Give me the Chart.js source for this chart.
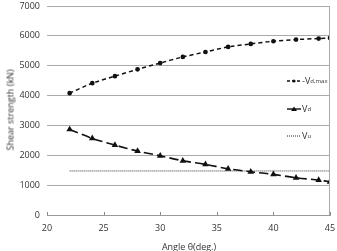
<!DOCTYPE html>
<html>
<head>
<meta charset="utf-8">
<script src="https://cdn.jsdelivr.net/npm/chart.js@4/dist/chart.umd.min.js"></script>
<style>
    html, body { margin: 0; padding: 0; background: #fff; }
    #wrap { position: relative; width: 337px; height: 251px; font-family: "Open Sans", "Noto Sans", sans-serif; color: #333; }
    #chart { position: absolute; left: 0; top: 0; }
    .legend-item { position: absolute; font-size: 9px; display: flex; align-items: center; white-space: nowrap; }
    .legend-item svg { margin-right: 1px; }
    .legend-item sub { font-size: 6px; vertical-align: -2px; }
    #ytitle { position: absolute; left: 10px; top: 110px; font-size: 9px; font-weight: normal; transform: translate(-50%, -50%) rotate(-90deg); white-space: nowrap; }
    #xtitle { position: absolute; left: 189px; top: 246px; font-size: 9px; transform: translate(-50%, -50%); white-space: nowrap; }
</style>
</head>
<body>
<div id="wrap">
    <canvas id="chart" width="337" height="251"></canvas>
    <div id="ytitle">Shear strength (kN)</div>
    <div id="xtitle">Angle θ(deg.)</div>
    <div class="legend-item" style="left:287px; top:74px;">
        <svg width="14" height="6"><line x1="0" y1="3" x2="14" y2="3" stroke="#111" stroke-width="1.4" stroke-dasharray="3,2"/><circle cx="7" cy="3" r="1.6" fill="#111"/></svg>-V<sub>d,max</sub>
    </div>
    <div class="legend-item" style="left:287px; top:102px;">
        <svg width="14" height="6"><line x1="0" y1="3" x2="14" y2="3" stroke="#111" stroke-width="1.4"/><polygon points="7,0.5 10,5 4,5" fill="#111"/></svg>V<sub>d</sub>
    </div>
    <div class="legend-item" style="left:287px; top:129px;">
        <svg width="14" height="6"><line x1="0" y1="3" x2="14" y2="3" stroke="#222" stroke-width="1" stroke-dasharray="1,1"/></svg>V<sub>u</sub>
    </div>
</div>
<script>
    const angles = [22, 24, 26, 28, 30, 32, 34, 36, 38, 40, 42, 44, 45];
    const vdMax = [4080, 4415, 4650, 4880, 5090, 5295, 5460, 5630, 5730, 5820, 5875, 5910, 5930];
    const vd = [2866, 2565, 2341, 2140, 1983, 1816, 1695, 1548, 1448, 1361, 1247, 1170, 1114];
    const vuAngles = [22, 45];
    const vu = [1475, 1475];
    const xTicks = [20, 25, 30, 35, 40, 45];

    const toPoints = (xs, ys) => xs.map((x, i) => ({ x: x, y: ys[i] }));

    // small tick marks pointing up into the plot, like the original
    const innerTicks = {
        id: 'innerTicks',
        afterDraw(chart) {
            const ctx = chart.ctx;
            const xs = chart.scales.x;
            const bottom = chart.chartArea.bottom;
            ctx.save();
            ctx.strokeStyle = '#888';
            ctx.lineWidth = 1;
            xTicks.forEach(t => {
                const px = Math.round(xs.getPixelForValue(t)) + 0.5;
                ctx.beginPath();
                ctx.moveTo(px, bottom);
                ctx.lineTo(px, bottom - 3);
                ctx.stroke();
            });
            ctx.restore();
        }
    };

    new Chart(document.getElementById('chart'), {
        type: 'scatter',
        data: {
            datasets: [
                {
                    label: 'Vd,max',
                    data: toPoints(angles, vdMax),
                    showLine: true,
                    borderColor: '#111',
                    backgroundColor: '#111',
                    borderWidth: 1.5,
                    borderDash: [4, 3],
                    pointStyle: 'circle',
                    pointRadius: 1.6,
                    tension: 0.3
                },
                {
                    label: 'Vd',
                    data: toPoints(angles, vd),
                    showLine: true,
                    borderColor: '#111',
                    backgroundColor: '#111',
                    borderWidth: 1.6,
                    borderDash: [9, 4],
                    pointStyle: 'triangle',
                    pointRadius: 2.2,
                    tension: 0.3
                },
                {
                    label: 'Vu',
                    data: toPoints(vuAngles, vu),
                    showLine: true,
                    borderColor: '#333',
                    borderWidth: 1,
                    borderDash: [1, 1],
                    pointRadius: 0
                }
            ]
        },
        options: {
            responsive: false,
            animation: false,
            layout: { padding: { top: 6, right: 7, bottom: 0, left: 0 } },
            plugins: { legend: { display: false }, tooltip: { enabled: false } },
            scales: {
                x: {
                    type: 'linear',
                    min: 20,
                    max: 45,
                    afterBuildTicks: axis => { axis.ticks = xTicks.map(v => ({ value: v })); },
                    grid: { display: false, drawTicks: false },
                    border: { color: '#999' },
                    ticks: { color: '#333', font: { family: 'Open Sans', size: 9 }, padding: 8 },
                    afterFit: axis => { axis.height = 36; axis.paddingRight = 0; axis.paddingLeft = 0; }
                },
                y: {
                    min: 0,
                    max: 7000,
                    ticks: {
                        stepSize: 1000,
                        color: '#333',
                        font: { family: 'Open Sans', size: 9 },
                        padding: 7,
                        callback: v => String(v)
                    },
                    grid: { color: '#aaa', drawTicks: false },
                    border: { display: false },
                    afterFit: axis => { axis.width = 47; axis.paddingTop = 0; axis.paddingBottom = 0; }
                }
            }
        },
        plugins: [innerTicks, {
            id: 'frame',
            afterDraw(chart) {
                const a = chart.chartArea;
                const ctx = chart.ctx;
                ctx.save();
                ctx.strokeStyle = '#aaa';
                ctx.lineWidth = 1;
                ctx.beginPath();
                ctx.moveTo(Math.round(a.right) - 0.5, a.top);
                ctx.lineTo(Math.round(a.right) - 0.5, a.bottom);
                ctx.stroke();
                ctx.restore();
            }
        }]
    });
</script>
</body>
</html>
